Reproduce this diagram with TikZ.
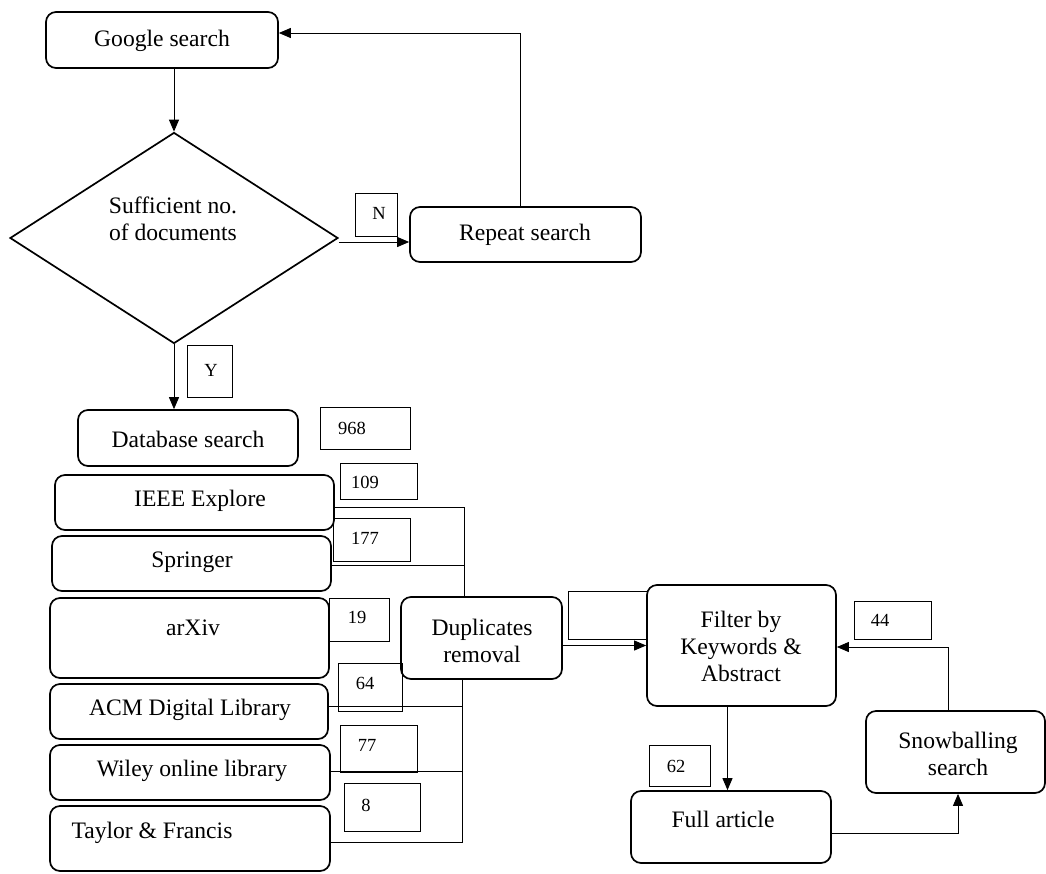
\documentclass[tikz,border=0pt]{standalone}
\usepackage{fontspec}
\setmainfont{Liberation Serif}
\usetikzlibrary{shapes.geometric,arrows.meta,calc}
\begin{document}
\begin{tikzpicture}[x=1pt,y=-1pt,
  box/.style={draw,line width=1.7pt,rounded corners=10pt,inner sep=0pt,font=\fontsize{23.6}{27}\selectfont,align=center},
  numbox/.style={draw,line width=0.9pt,inner sep=0pt},
  numtxt/.style={inner sep=0pt,font=\fontsize{18.5}{21}\selectfont},
  btxt/.style={inner sep=0pt,font=\fontsize{23.6}{27}\selectfont,align=center},
  conn/.style={line width=0.9pt},
  arr/.style={conn,-{Triangle[length=12pt,width=10pt]}}]
\useasboundingbox (0,0) rectangle (1046,873);
% top part
\node[box,minimum width=232pt,minimum height=56pt] (google) at (162,40) {};
\node[btxt] (googlet) at (162,41) {Google search};
\node[draw,line width=1.7pt,diamond,minimum width=328pt,minimum height=211pt,inner sep=0pt] (dia) at (174,238) {};
\node[btxt] (diatxt) at (173,219) {Sufficient no.\\of documents};
\node[box,minimum width=231pt,minimum height=55pt] (rep) at (525.5,234.5) {};
\node[btxt] (rept) at (525,235) {Repeat search};
\node[numbox,minimum width=42pt,minimum height=43pt] (nbox) at (376,214.5) {};
\node[numtxt] (ntxt) at (379,213) {N};
\node[numbox,minimum width=45pt,minimum height=52pt] (ybox) at (209.5,371) {};
\node[numtxt] (ytxt) at (211,370) {Y};
\node[box,minimum width=220pt,minimum height=56pt] (db) at (188,438) {};
\node[btxt] (dbt) at (188,439) {Database search};
\node[numbox,minimum width=90pt,minimum height=42pt] (b968) at (365,428) {};
\node[numtxt] (t968) at (352,428) {968};
% databases
\node[box,minimum width=279pt,minimum height=55pt] (ieee) at (194.5,502.5) {};
\node[btxt] (ieeet) at (200,501) {IEEE Explore};
\node[numbox,minimum width=77pt,minimum height=36pt] (b109) at (378.5,481) {};
\node[numtxt] (t109) at (365,482) {109};
\node[box,minimum width=279pt,minimum height=55pt] (spr) at (191.5,563.5) {};
\node[btxt] (sprt) at (192,562) {Springer};
\node[numbox,minimum width=77pt,minimum height=43pt] (b177) at (371.5,539.5) {};
\node[numtxt] (t177) at (365,538) {177};
\node[box,minimum width=279pt,minimum height=80pt] (arx) at (189.5,638) {};
\node[btxt] (arxt) at (193,628) {arXiv};
\node[numbox,minimum width=60pt,minimum height=43pt] (b19) at (359,619.5) {};
\node[numtxt] (t19) at (357,617) {19};
\node[box,minimum width=278pt,minimum height=55pt] (acm) at (189,711.5) {};
\node[btxt] (acmt) at (190,710) {ACM Digital Library};
\node[numbox,minimum width=64pt,minimum height=48pt] (b64) at (370,687) {};
\node[numtxt] (t64) at (365,683) {64};
\node[box,minimum width=280pt,minimum height=55pt] (wil) at (190,772.5) {};
\node[btxt] (wilt) at (192,771) {Wiley online library};
\node[numbox,minimum width=77pt,minimum height=47pt] (b77) at (378.5,748.5) {};
\node[numtxt] (t77) at (367,745) {77};
\node[box,minimum width=280pt,minimum height=65pt] (tay) at (190,838.5) {};
\node[btxt] (tayt) at (152,833) {Taylor \& Francis};
\node[numbox,minimum width=76pt,minimum height=48pt] (b8) at (382,807) {};
\node[numtxt] (t8) at (366,805) {8};
% right part
\node[box,minimum width=161pt,minimum height=82pt] (dup) at (481.5,638) {};
\node[btxt] (dupt) at (482,641) {Duplicates\\removal};
\node[numbox,minimum width=79pt,minimum height=48pt] (bempty) at (607.5,615) {};
\node[box,minimum width=189pt,minimum height=121pt] (filt) at (741.5,645.5) {};
\node[btxt] (filtt) at (741,646) {Filter by\\Keywords \&\\Abstract};
\node[numbox,minimum width=77pt,minimum height=38pt] (b44) at (892.5,620) {};
\node[numtxt] (t44) at (880,620) {44};
\node[box,minimum width=179pt,minimum height=82pt] (snow) at (955.5,752) {};
\node[btxt] (snowt) at (958,754) {Snowballing\\search};
\node[box,minimum width=200pt,minimum height=72pt] (full) at (731,827) {};
\node[btxt] (fullt) at (723,819) {Full article};
\node[numbox,minimum width=61pt,minimum height=41pt] (b62) at (679.5,765.5) {};
\node[numtxt] (t62) at (676,766) {62};
% junctions
\coordinate (jt) at (464,507);
\coordinate (jb) at (462,842);
% connectors
\draw[arr] (dia.north |- google.south) -- (dia.north);
\draw[arr] ([yshift=-4pt]dia.east) -- ([yshift=-4pt]dia.east -| rep.west);
\draw[arr] ([xshift=-5pt]rep.north) |- ([yshift=7pt]google.east);
\draw[arr] (dia.south) -- (dia.south |- db.north);
\draw[conn] (ieee.east |- jt) -- (jt) -- (jt |- dup.north);
\draw[conn] ([yshift=-1.5pt]spr.east) -- ([yshift=-1.5pt]spr.east -| jt);
\draw[conn] (jb |- dup.south) -- (jb) -- (jb -| tay.east);
\draw[conn] ([yshift=5.5pt]acm.east) -- ([yshift=5.5pt]acm.east -| jb);
\draw[conn] ([yshift=1.5pt]wil.east) -- ([yshift=1.5pt]wil.east -| jb);
\draw[arr] (dup.east |- filt.west) -- (filt.west);
\draw[arr] ([xshift=-14pt]filt.south) -- ([xshift=-14pt]filt.south |- full.north);
\draw[arr] ([yshift=-6pt]full.east) -| ([xshift=2.5pt]snow.south);
\draw[arr] ([xshift=-7.5pt]snow.north) |- ([yshift=-1.5pt]filt.east);
\end{tikzpicture}
\end{document}
